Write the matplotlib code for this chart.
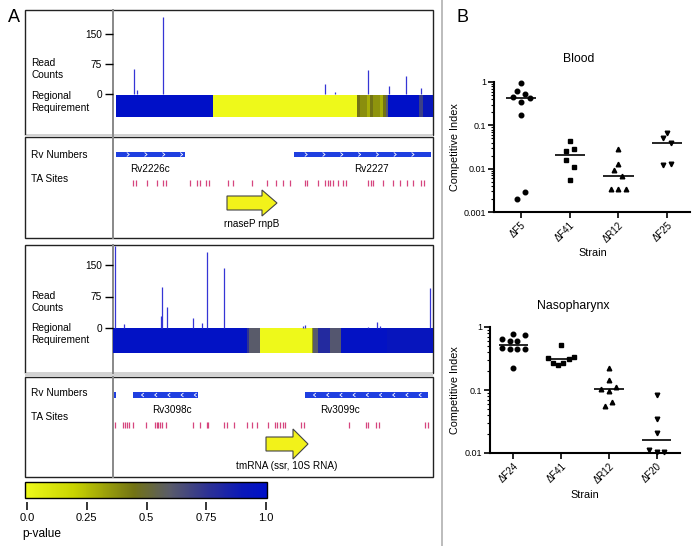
import numpy as np
import matplotlib
matplotlib.use('Agg')
import matplotlib.pyplot as plt
from matplotlib.patches import Rectangle, FancyArrow
from matplotlib.colors import LinearSegmentedColormap, Normalize
from matplotlib.cm import ScalarMappable
from matplotlib import ticker

plt.rcParams['font.family'] = ['Liberation Sans', 'DejaVu Sans']

# ---- panel A data (track position units) ----
# region 1: rnpB locus
r1_read_pos = [21, 24, 50, 212, 222, 255, 276, 293, 308]
r1_read_counts = [62, 10, 193, 25, 5, 60, 20, 45, 14]
r1_req_edges = [3, 100, 244, 247, 254, 257, 260, 267, 270, 273, 275, 306, 310, 320]
r1_req_pval = [1.0, 0.0, 0.45, 0.38, 0.30, 0.45, 0.37, 0.30, 0.45, 0.6, 1.0, 0.7, 0.92]
r1_ta_sites = [20, 23, 34, 44, 50, 53, 77, 84, 87, 93, 96, 115, 120, 139, 154, 163, 170,
               177, 192, 194, 205, 212, 215, 217, 220, 225, 230, 233, 255, 258, 260, 270,
               280, 287, 294, 300, 308, 311]
r1_gene_names = ['Rv2226c', 'Rv2227']
r1_gene_start = [3, 181]
r1_gene_end = [72, 318]
r1_gene_label_x = [37, 258]
r1_rna_name = 'rnaseP rnpB'
r1_rna_span = (114, 164)

# region 2: tmRNA locus
r2_read_pos = [2, 11, 48, 49, 54, 80, 89, 94, 111, 190, 192, 255, 264, 267, 317]
r2_read_counts = [195, 10, 29, 97, 50, 24, 13, 181, 143, 5, 7, 3, 15, 5, 95]
r2_req_edges = [0, 134, 136, 147, 199, 200, 205, 217, 228, 274, 320]
r2_req_pval = [0.98, 0.75, 0.6, 0.0, 0.35, 0.6, 0.8, 0.62, 0.97, 0.93]
r2_ta_sites = [2, 10, 12, 14, 16, 20, 33, 42, 44, 45, 47, 49, 53, 80, 87, 94, 95, 111,
               114, 121, 134, 139, 144, 155, 162, 164, 167, 170, 172, 188, 191, 236,
               253, 255, 263, 266, 312, 315]
r2_gene_names = ['', 'Rv3098c', 'Rv3099c']
r2_gene_start = [1, 20, 192]
r2_gene_end = [3, 85, 315]
r2_gene_label_x = [2, 59, 227]
r2_rna_name = 'tmRNA (ssr, 10S RNA)'
r2_rna_span = (153, 195)

pval_ticks = [0.0, 0.25, 0.5, 0.75, 1.0]
pval_labels = ['0.0', '0.25', '0.5', '0.75', '1.0']

# ---- panel B data ----
blood_strains = ['ΔF5', 'ΔF41', 'ΔR12', 'ΔF25']
blood_ci = [[0.93, 0.62, 0.54, 0.45, 0.42, 0.345, 0.17, 0.0029, 0.002],
            [0.043, 0.0255, 0.029, 0.0156, 0.0108, 0.0054],
            [0.028, 0.0125, 0.0091, 0.0068, 0.0034, 0.0034, 0.0034],
            [0.068, 0.05, 0.040, 0.012, 0.0127]]
blood_jit = [[0, -0.075, 0.082, -0.158, 0.178, 0, 0, 0.082, -0.075],
             [0, -0.075, 0.082, -0.075, 0.082, 0],
             [0, 0, -0.082, 0.082, -0.158, 0, 0.158],
             [0, -0.082, 0.082, -0.082, 0.082]]

naso_strains = ['ΔF24', 'ΔF41', 'ΔR12', 'ΔF20']
naso_ci = [[0.77, 0.76, 0.65, 0.59, 0.61, 0.46, 0.45, 0.44, 0.45, 0.22],
           [0.52, 0.32, 0.27, 0.25, 0.27, 0.31, 0.33],
           [0.22, 0.142, 0.105, 0.113, 0.098, 0.064, 0.055],
           [0.082, 0.035, 0.021, 0.011, 0.0104, 0.0104]]
naso_jit = [[0, 0.244, -0.23, -0.07, 0.084, -0.23, -0.07, 0.084, 0.244, 0],
            [0, -0.265, -0.16, -0.056, 0.049, 0.167, 0.279],
            [0, 0, -0.16, 0.153, 0, 0.07, -0.09],
            [0, 0, 0, -0.153, 0, 0.153]]

markers = ['o', 's', '^', 'v']

W, H = 700, 546


def rect(x0, y0, x1, y1):
    return [x0 / W, 1 - y1 / H, (x1 - x0) / W, (y1 - y0) / H]


cmap = LinearSegmentedColormap.from_list('pval', [
    (0.0, '#eef91a'), (0.2, '#c9d400'), (0.45, '#727314'), (0.6, '#595b6a'),
    (0.75, '#2f3392'), (0.9, '#0a18b8'), (1.0, '#0010c8')])

fig = plt.figure(figsize=(7, 5.46), dpi=100)
fa = fig.add_axes([0, 0, 1, 1])
fa.set_xlim(0, W)
fa.set_ylim(H, 0)
fa.axis('off')

# frames for panel A
for y0, y1 in [(10, 134.5), (137, 238), (245, 373), (377, 477)]:
    fa.add_patch(Rectangle((25, y0), 408, y1 - y0, fill=False, ec='#222', lw=1))
    fa.plot([113, 113], [y0, y1], color='#888', lw=1.4)
for y0, y1 in [(134.5, 137), (373, 377)]:
    fa.add_patch(Rectangle((25, y0), 408, y1 - y0, fc='#d2d2d2', ec='none'))

fa.axvline(442, color='#b0b0b0', lw=1.2)
fa.text(14, 18, 'A', fontsize=13, ha='center', va='center')
fa.text(462, 18, 'B', fontsize=13, ha='center', va='center')

lab = dict(fontsize=7.3, ha='left', va='center')
fa.text(31, 69, 'Read\nCounts', **lab)
fa.text(31, 102, 'Regional\nRequirement', **lab)
fa.text(31, 155, 'Rv Numbers', **lab)
fa.text(31, 179, 'TA Sites', **lab)
fa.text(31, 302, 'Read\nCounts', **lab)
fa.text(31, 334, 'Regional\nRequirement', **lab)
fa.text(31, 393, 'Rv Numbers', **lab)
fa.text(31, 417, 'TA Sites', **lab)


def read_track(y0, y1, base_y, per_px, pos, counts, edges, pvals, req_top, req_bot):
    ax = fig.add_axes(rect(113, y0, 433, y1))
    ax.patch.set_visible(False)
    for s in ax.spines.values():
        s.set_visible(False)
    ax.set_xlim(0, 320)
    ax.set_ylim(-(y1 - base_y) * per_px, (base_y - y0) * per_px)
    ax.pcolormesh(edges, [-(req_bot - base_y) * per_px, -(req_top - base_y) * per_px],
                  np.array([pvals]), cmap=cmap, vmin=0, vmax=1)
    ax.vlines(pos, 0, counts, color='#3535d5', lw=0.9)
    ax.set_xticks([])
    ax.set_yticks([0, 75, 150])
    ax.tick_params(axis='y', length=6, width=1, pad=2, labelsize=7.3)
    return ax


def chevrons(ax, start, end, y, strand, step):
    xs = np.arange(start + step * 0.7, end - 2, step)
    d = 1.3 if strand == '+' else -1.3
    cx, cy = [], []
    for x in xs:
        cx += [x - d, x + d * 0.6, x - d, np.nan]
        cy += [y - 1.7, y, y + 1.7, np.nan]
    ax.plot(cx, cy, color='white', lw=0.6)


def gene_track(y0, y1, names, starts, ends, label_x, strand, step, ta, rna, rna_span,
               bar_y, label_y, ta_y, arrow_y, head_w, rna_y):
    ax = fig.add_axes(rect(113, y0, 433, y1))
    ax.patch.set_visible(False)
    ax.axis('off')
    ax.set_xlim(0, 320)
    ax.set_ylim(y1 - y0, 0)
    for name, s, e, lx in zip(names, starts, ends, label_x):
        ax.add_patch(Rectangle((s, bar_y - 2.8), e - s, 5.6, fc='#1f3fe0', ec='none'))
        if e - s > 10:
            chevrons(ax, s, e, bar_y, strand, step)
        if name:
            ax.text(lx, label_y, name, fontsize=7.2, ha='center', va='center')
    ax.vlines(ta, ta_y - 3, ta_y + 3, color='#d6457e', lw=0.9)
    ax.add_patch(FancyArrow(rna_span[0], arrow_y, rna_span[1] - rna_span[0], 0, width=14,
                            head_width=head_w, head_length=15, length_includes_head=True,
                            fc='#f2f21a', ec='#444', lw=0.8))
    ax.text((rna_span[0] + rna_span[1]) / 2, rna_y, rna, fontsize=7.2,
            ha='center', va='center')
    return ax


read_track(10, 134.5, 94, 2.5, r1_read_pos, r1_read_counts, r1_req_edges, r1_req_pval, 95, 117)
gene_track(137, 238, r1_gene_names, r1_gene_start, r1_gene_end, r1_gene_label_x, '+', 17.8,
           r1_ta_sites, r1_rna_name, r1_rna_span, 17.5, 32, 46, 66, 26, 87)
read_track(245, 373, 328, 150 / 63, r2_read_pos, r2_read_counts, r2_req_edges, r2_req_pval, 328, 353)
gene_track(377, 477, r2_gene_names, r2_gene_start, r2_gene_end, r2_gene_label_x, '-', 13.2,
           r2_ta_sites, r2_rna_name, r2_rna_span, 18, 33, 48, 67, 30, 89)

# p-value colour scale
cax = fig.add_axes(rect(25, 482, 267, 498))
cb = fig.colorbar(ScalarMappable(norm=Normalize(0, 1), cmap=cmap), cax=cax,
                  orientation='horizontal', ticks=[])
cb.outline.set_linewidth(1)
sax = fig.add_axes(rect(27, 504, 266, 510))
sax.patch.set_visible(False)
for s in sax.spines.values():
    s.set_visible(False)
sax.set_xlim(0, 1)
sax.set_yticks([])
sax.set_xticks(pval_ticks)
sax.set_xticklabels(pval_labels)
sax.tick_params(axis='x', direction='in', length=6, width=1.1, pad=2.5, labelsize=8)
fa.text(22, 534, 'p-value', fontsize=8.6, ha='left', va='center')


def ci_panel(x0, y0, x1, y1, xlo, xhi, ymin, strains, values, jitter):
    ax = fig.add_axes(rect(x0, y0, x1, y1))
    ax.patch.set_visible(False)
    ax.set_yscale('log')
    ax.set_ylim(ymin, 1)
    ax.set_xlim(xlo, xhi)
    for k, (vals, jit) in enumerate(zip(values, jitter)):
        ax.plot(k + np.array(jit), vals, marker=markers[k], ls='none', color='black',
                ms=3.3, clip_on=False)
        ax.hlines(np.median(vals), k - 0.31, k + 0.31, color='black', lw=1.2)
    ax.spines['top'].set_visible(False)
    ax.spines['right'].set_visible(False)
    for s in ['left', 'bottom']:
        ax.spines[s].set_linewidth(1.5)
    ax.yaxis.set_major_locator(ticker.LogLocator(base=10))
    ax.yaxis.set_minor_locator(ticker.LogLocator(base=10, subs=np.arange(2, 10)))
    ax.yaxis.set_major_formatter(ticker.FuncFormatter(lambda v, p: '1' if v == 1 else f'{v:g}'))
    ax.yaxis.set_minor_formatter(ticker.NullFormatter())
    ax.tick_params(axis='y', which='major', length=4, width=1.2, pad=1.5, labelsize=6.5)
    ax.tick_params(axis='y', which='minor', length=2.2, width=0.8)
    ax.set_xticks(range(len(strains)))
    ax.set_xticklabels(strains, rotation=45, ha='right', rotation_mode='anchor')
    ax.tick_params(axis='x', length=4, width=1.2, pad=2, labelsize=7)
    return ax


ci_panel(494, 82, 690, 212, -0.555, 3.47, 0.001, blood_strains, blood_ci, blood_jit)
ci_panel(490, 327, 680, 453, -0.49, 3.49, 0.01, naso_strains, naso_ci, naso_jit)

fa.text(579, 59, 'Blood', fontsize=8.8, ha='center', va='center')
fa.text(573, 306, 'Nasopharynx', fontsize=8.8, ha='center', va='center')
fa.text(455, 147, 'Competitive Index', fontsize=7.8, rotation=90, ha='center', va='center')
fa.text(455, 390, 'Competitive Index', fontsize=7.8, rotation=90, ha='center', va='center')
fa.text(593, 253, 'Strain', fontsize=7.8, ha='center', va='center')
fa.text(585, 495, 'Strain', fontsize=7.8, ha='center', va='center')

fig.savefig('out.png', dpi=100)
